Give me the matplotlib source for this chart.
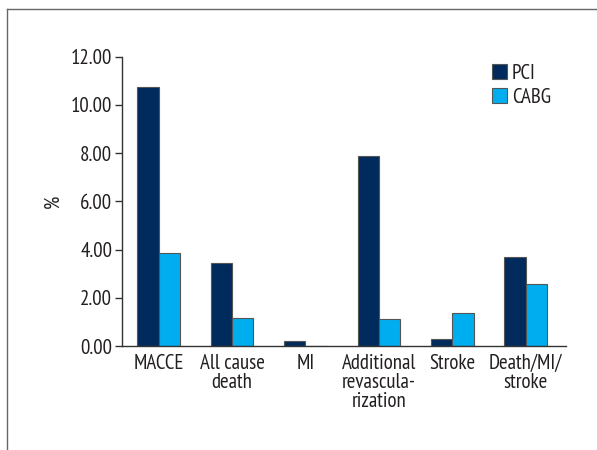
import matplotlib
matplotlib.use('Agg')
import matplotlib.pyplot as plt
import numpy as np
from matplotlib.lines import Line2D

categories = ['MACCE', 'All cause\ndeath', 'MI', 'Additional\nrevascula-\nrization', 'Stroke', 'Death/MI/\nstroke']
pci = [10.75, 3.43, 0.22, 7.89, 0.31, 3.69]
cabg = [3.84, 1.18, 0.0, 1.12, 1.38, 2.58]
yticks = [0, 2, 4, 6, 8, 10, 12]

plt.rcParams['font.family'] = ['PT Sans Narrow', 'DejaVu Sans']
text_col = '#231f20'

fig = plt.figure(figsize=(5.97, 4.5), dpi=100, facecolor='white')
# outer frame (left and top edges only)
fig.add_artist(Line2D([0.011, 0.011], [0, 0.979], color='#666666', lw=1.0, transform=fig.transFigure))
fig.add_artist(Line2D([0.011, 1.0], [0.979, 0.979], color='#666666', lw=1.0, transform=fig.transFigure))

ax = fig.add_axes([0.2044, 0.231, 0.7436, 0.643])
x = np.arange(len(categories))
w = 0.29
ax.bar(x - w / 2, pci, w, color='#002b5c', edgecolor='#555555', linewidth=0.8, label='PCI')
ax.bar(x + w / 2, cabg, w, color='#00aeef', edgecolor='#555555', linewidth=0.8, label='CABG')

ax.set_xlim(-0.5, 5.55)
ax.set_ylim(0, 12)
ax.set_yticks(yticks)
ax.set_yticklabels([f'{v:.2f}' for v in yticks], fontsize=15, color=text_col)
ax.set_xticks(x)
ax.set_xticklabels(categories, fontsize=15, color=text_col, linespacing=1.0)
ax.tick_params(axis='x', length=0, pad=6)
ax.tick_params(axis='y', length=5, width=1, color='#333333', pad=2)
for s in ['top', 'right']:
    ax.spines[s].set_visible(False)
for s in ['left', 'bottom']:
    ax.spines[s].set_color('#333333')
    ax.spines[s].set_linewidth(1)
ax.set_ylabel('%', fontsize=15, color=text_col, labelpad=6)

ax.legend(loc='upper left', bbox_to_anchor=(0.833, 0.975), frameon=False, fontsize=15,
          borderpad=0, borderaxespad=0,
          handlelength=0.72, handleheight=0.72, handletextpad=0.25, labelspacing=0.25,
          labelcolor=text_col)

fig.savefig('out.png', dpi=100, facecolor='white')
